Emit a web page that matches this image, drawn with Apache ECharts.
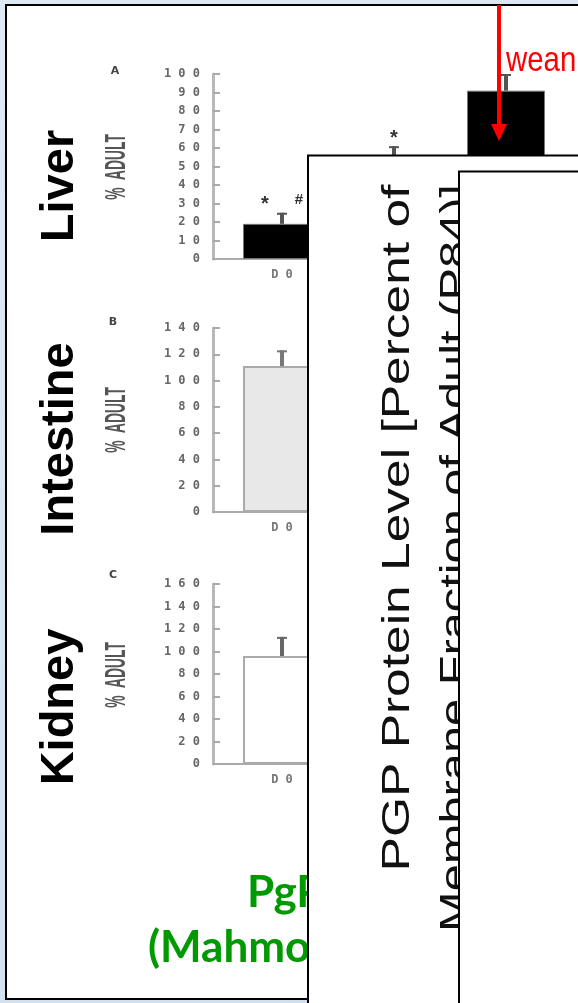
<!DOCTYPE html>
<html><head><meta charset="utf-8">
<script src="https://cdn.jsdelivr.net/npm/echarts@6/dist/echarts.min.js"></script>
<style>
html,body{margin:0;padding:0;width:578px;height:1003px;overflow:hidden;background:linear-gradient(160deg,#dfe9f4,#cfdeef);}
#frame{position:absolute;left:5px;top:4px;width:700px;height:992px;border:2px solid #000;background:#fff;}
#chart{position:absolute;left:0;top:0;width:578px;height:1003px;}
</style></head><body>
<div id="frame"></div><div id="chart"></div>
<script>
// ---- data ----
const categories = ['D0', 'D7', 'D21'];
const liverValues = [19, 52, 91];
const liverErrTop = [25, 61, 100];
const liverSig = [['*', '#'], ['*'], []];
const intestineValues = [111];
const intestineErrTop = [123];
const kidneyValues = [96];
const kidneyErrTop = [113];
const liverAxisMax = 100, liverAxisStep = 10;
const intestineAxisMax = 140, intestineAxisStep = 20;
const kidneyAxisMax = 160, kidneyAxisStep = 20;
const panelLetters = ['A', 'B', 'C'];
const organNames = ['Liver', 'Intestine', 'Kidney'];
const yAxisTitle = '%  ADULT';

// ---- layout ----
const grids = [
  {left: 213, top: 74, width: 461, height: 185},
  {left: 213, top: 328, width: 461, height: 184},
  {left: 213, top: 584, width: 461, height: 180}
];
const X_MIN = -0.616, X_MAX = 3.5;
const spaced = v => String(v).split('').join(' ');

function xAxisFor(i) {
  return {
    type: 'value', gridIndex: i, min: X_MIN, max: X_MAX,
    axisLine: {show: true, lineStyle: {color: '#aaa', width: 2}},
    axisTick: {show: false}, splitLine: {show: false},
    axisLabel: {
      customValues: categories.map((c, k) => k),
      formatter: v => spaced(categories[Math.round(v)] || ''),
      margin: 10, fontFamily: '"DejaVu Sans Mono", monospace', fontWeight: 'bold',
      fontSize: 12, color: '#777'
    }
  };
}
function yAxisFor(i, max, step) {
  return {
    type: 'value', gridIndex: i, min: 0, max: max, interval: step,
    axisLine: {show: true, onZero: false, lineStyle: {color: '#b8b8b8', width: 3}},
    axisTick: {show: true, inside: true, length: 7, lineStyle: {color: '#aaa', width: 2}},
    splitLine: {show: false},
    axisLabel: {
      formatter: v => spaced(v), margin: 13,
      fontFamily: '"DejaVu Sans Mono", monospace', fontWeight: 'bold', fontSize: 12, color: '#666'
    }
  };
}
function barSeries(i, values, style) {
  return {
    type: 'bar', xAxisIndex: i, yAxisIndex: i, barWidth: 78, z: 3,
    data: values.map((v, k) => [k, v]),
    itemStyle: style, silent: true
  };
}
function errSeries(i, values, errs, sigs, color) {
  return {
    type: 'custom', xAxisIndex: i, yAxisIndex: i, z: 5, silent: true,
    data: values.map((v, k) => [k, v, errs[k]]),
    encode: {x: 0, y: [1, 2]},
    renderItem(params, api) {
      const k = params.dataIndex;
      const x = api.value(0);
      const lo = api.coord([x, api.value(1)]);
      const hi = api.coord([x, api.value(2)]);
      const children = [
        {type: 'line', shape: {x1: lo[0], y1: lo[1], x2: hi[0], y2: hi[1]}, style: {stroke: color, lineWidth: 4}},
        {type: 'line', shape: {x1: hi[0] - 5, y1: hi[1] + 1, x2: hi[0] + 5, y2: hi[1] + 1}, style: {stroke: color, lineWidth: 2}}
      ];
      const marks = sigs ? (sigs[k] || []) : [];
      marks.forEach((m, j) => {
        const dx = marks.length > 1 ? (j === 0 ? -17 : 17) : 0;
        const star = m === '*';
        children.push({
          type: 'text', x: hi[0] + dx, y: hi[1] - (star ? 8 : 13),
          style: {text: m, font: 'bold ' + (star ? 20 : 15) + 'px "Liberation Sans", Arial', fill: '#333', align: 'center', verticalAlign: 'middle'}
        });
      });
      return {type: 'group', children};
    }
  };
}

const organY = [186, 439, 707];
const titleY = [167, 420, 675];
const letterPos = [[115, 71], [113, 322], [113, 575]];
const graphic = [];
organNames.forEach((n, k) => {
  graphic.push({type: 'text', x: 60, y: organY[k], rotation: Math.PI / 2, z: 1,
    style: {text: n, font: 'bold 47px "Liberation Sans", Arial, sans-serif', fill: '#000', align: 'center', verticalAlign: 'middle'}});
  graphic.push({type: 'text', x: 117, y: titleY[k], rotation: Math.PI / 2, scaleX: 0.46, z: 1,
    style: {text: yAxisTitle, font: 'bold 30px "Liberation Sans", Arial, sans-serif', fill: '#555', align: 'center', verticalAlign: 'middle'}});
  graphic.push({type: 'text', x: letterPos[k][0], y: letterPos[k][1], z: 1,
    style: {text: panelLetters[k], font: 'bold 11px "DejaVu Sans", sans-serif', fill: '#444', align: 'center', verticalAlign: 'middle'}});
});
graphic.push(
  {type: 'text', x: 247, y: 893, z: 1,
    style: {text: 'PgP Ontogeny', font: 'bold 44px "Comic Sans MS", Lato, "Noto Sans", sans-serif', fill: '#009a00', align: 'left', verticalAlign: 'middle'}},
  {type: 'text', x: 148, y: 948, z: 1,
    style: {text: '(Mahmood et al., 2001)', font: 'bold 44px "Comic Sans MS", Lato, "Noto Sans", sans-serif', fill: '#009a00', align: 'left', verticalAlign: 'middle'}},
  {type: 'rect', z: 50, shape: {x: 308, y: 155.5, width: 400, height: 900}, style: {fill: '#fff', stroke: '#000', lineWidth: 2}},
  {type: 'text', x: 398, y: 528, rotation: Math.PI / 2, scaleX: 1.32, z: 51,
    style: {text: 'PGP Protein Level [Percent of', font: '39px "Liberation Sans", Arial, sans-serif', fill: '#111', align: 'center', verticalAlign: 'middle'}},
  {type: 'text', x: 456, y: 558, rotation: Math.PI / 2, scaleX: 1.25, z: 51,
    style: {text: 'Membrane Fraction of Adult (P84)]', font: '39px "Liberation Sans", Arial, sans-serif', fill: '#111', align: 'center', verticalAlign: 'middle'}},
  {type: 'rect', z: 60, shape: {x: 459, y: 171.5, width: 300, height: 900}, style: {fill: '#fff', stroke: '#000', lineWidth: 2}},
  {type: 'line', z: 70, shape: {x1: 499, y1: 5, x2: 499, y2: 128}, style: {stroke: '#ff0000', lineWidth: 4}},
  {type: 'polygon', z: 70, shape: {points: [[491, 124], [507, 124], [499, 141]]}, style: {fill: '#ff0000'}},
  {type: 'text', x: 506, y: 61, scaleX: 0.84, z: 70,
    style: {text: 'weaning', font: '35px "Liberation Sans", Arial, sans-serif', fill: '#ff0000', align: 'left', verticalAlign: 'middle'}}
);

const chart = echarts.init(document.getElementById('chart'), null, {renderer: 'canvas'});
chart.setOption({
  animation: false,
  backgroundColor: 'transparent',
  grid: grids.map(g => Object.assign({containLabel: false, outerBoundsMode: 'none'}, g)),
  xAxis: [xAxisFor(0), xAxisFor(1), xAxisFor(2)],
  yAxis: [
    yAxisFor(0, liverAxisMax, liverAxisStep),
    yAxisFor(1, intestineAxisMax, intestineAxisStep),
    yAxisFor(2, kidneyAxisMax, kidneyAxisStep)
  ],
  series: [
    barSeries(0, liverValues, {color: '#000', borderColor: '#777', borderWidth: 1}),
    errSeries(0, liverValues, liverErrTop, liverSig, '#555'),
    barSeries(1, intestineValues, {color: '#e8e8e8', borderColor: '#aaa', borderWidth: 2}),
    errSeries(1, intestineValues, intestineErrTop, null, '#777'),
    barSeries(2, kidneyValues, {color: '#fff', borderColor: '#aaa', borderWidth: 2}),
    errSeries(2, kidneyValues, kidneyErrTop, null, '#666')
  ],
  graphic: graphic
});
</script>
</body></html>
